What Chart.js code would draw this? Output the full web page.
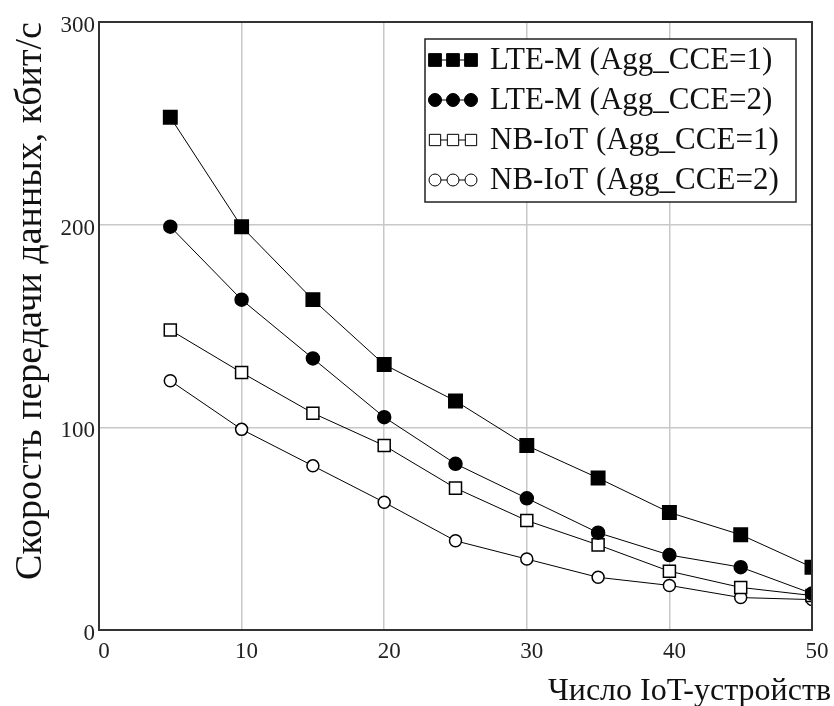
<!DOCTYPE html>
<html>
<head>
<meta charset="utf-8">
<script src="https://cdn.jsdelivr.net/npm/chart.js@4/dist/chart.umd.min.js"></script>
<style>
  html, body { margin: 0; padding: 0; background: #fff; }
  #wrap { width: 834px; height: 706px; }
</style>
</head>
<body>
<div id="wrap"><canvas id="rateChart" width="834" height="706"></canvas></div>
<script>
// число IoT-устройств
const devices = [5, 10, 15, 20, 25, 30, 35, 40, 45, 50];
// скорость, кбит/с
const lteM1 = [253, 199, 163, 131, 113, 91, 75, 58, 47, 31];
const lteM2 = [199, 163, 134, 105, 82, 65, 48, 37, 31, 18];
const nbIot1 = [148, 127, 107, 91, 70, 54, 42, 29, 21, 17];
const nbIot2 = [123, 99, 81, 63, 44, 35, 26, 22, 16, 15];
const seriesNames = ['LTE-M (Agg_CCE=1)', 'LTE-M (Agg_CCE=2)', 'NB-IoT (Agg_CCE=1)', 'NB-IoT (Agg_CCE=2)'];
const xTicks = [0, 10, 20, 30, 40, 50];
const yTicks = [0, 100, 200, 300];
const xTitle = 'Число IoT-устройств';
const yTitle = 'Скорость передачи данных, кбит/с';

const SERIF = '"Liberation Serif", "Times New Roman", serif';

function toPoints(values) {
    return devices.map((d, i) => ({ x: d, y: values[i] }));
}

// marker look per series
const markers = [
    { style: 'rect', radius: 9.5, fill: '#000', legendRadius: 9 },
    { style: 'circle', radius: 6.5, fill: '#000', legendRadius: 6.5 },
    { style: 'rect', radius: 8.5, fill: '#fff', legendRadius: 8 },
    { style: 'circle', radius: 6, fill: '#fff', legendRadius: 6 }
];

const allValues = [lteM1, lteM2, nbIot1, nbIot2];

const datasets = allValues.map((vals, i) => ({
    label: seriesNames[i],
    data: toPoints(vals),
    borderColor: '#000',
    borderWidth: 1,
    pointStyle: markers[i].style,
    pointRadius: markers[i].radius,
    pointHoverRadius: markers[i].radius,
    pointBackgroundColor: markers[i].fill,
    pointBorderColor: '#000',
    pointBorderWidth: 1.5,
    tension: 0
}));

// frame, axis titles and legend box
const extras = {
    id: 'extras',
    afterDraw(chart) {
        const ctx = chart.ctx;
        const a = chart.chartArea;
        ctx.save();
        ctx.strokeStyle = '#333';
        ctx.lineWidth = 2;
        ctx.strokeRect(a.left, a.top, a.right - a.left, a.bottom - a.top);

        // y title
        ctx.save();
        ctx.translate(31, 301);
        ctx.rotate(-Math.PI / 2);
        ctx.fillStyle = '#111';
        ctx.font = '38px ' + SERIF;
        ctx.textAlign = 'center';
        ctx.textBaseline = 'middle';
        ctx.fillText(yTitle, 0, 0);
        ctx.restore();

        // x title
        ctx.fillStyle = '#111';
        ctx.font = '32px ' + SERIF;
        ctx.textAlign = 'right';
        ctx.textBaseline = 'alphabetic';
        ctx.fillText(xTitle, 831, 700);

        // legend
        const bx = 425, by = 39, bw = 371, bh = 163;
        ctx.fillStyle = '#fff';
        ctx.fillRect(bx, by, bw, bh);
        ctx.strokeStyle = '#222';
        ctx.lineWidth = 1.5;
        ctx.strokeRect(bx, by, bw, bh);
        ctx.font = '31px ' + SERIF;
        ctx.textAlign = 'left';
        ctx.textBaseline = 'middle';
        seriesNames.forEach((name, i) => {
            const y = 60 + i * 40;
            ctx.strokeStyle = '#000';
            ctx.lineWidth = 1;
            ctx.beginPath();
            ctx.moveTo(429, y);
            ctx.lineTo(477, y);
            ctx.stroke();
            [435, 453, 471].forEach(px => {
                ctx.fillStyle = markers[i].fill;
                ctx.strokeStyle = '#000';
                Chart.helpers.drawPoint(ctx, {
                    pointStyle: markers[i].style,
                    radius: markers[i].legendRadius,
                    rotation: 0,
                    borderWidth: 1.2
                }, px, y);
            });
            ctx.fillStyle = '#111';
            ctx.fillText(name, 490, y + 1);
        });
        ctx.restore();
    }
};

new Chart('rateChart', {
    type: 'line',
    data: { datasets },
    options: {
        responsive: false,
        animation: false,
        events: [],
        layout: { padding: { top: 22, right: 22, bottom: 0, left: 0 } },
        plugins: {
            legend: { display: false },
            tooltip: { enabled: false }
        },
        scales: {
            x: {
                type: 'linear',
                min: 0,
                max: 50,
                afterBuildTicks: s => { s.ticks = xTicks.map(v => ({ value: v })); },
                afterFit: s => { s.height = 76; },
                grid: { color: '#c8c8c8', lineWidth: 1.5, drawTicks: false },
                border: { display: false },
                ticks: {
                    color: '#222',
                    font: { family: SERIF, size: 23 },
                    padding: 8,
                    labelOffset: 5,
                    maxRotation: 0
                }
            },
            y: {
                min: 0,
                max: 300,
                afterBuildTicks: s => { s.ticks = yTicks.map(v => ({ value: v })); },
                afterFit: s => { s.width = 99; },
                grid: { color: '#c8c8c8', lineWidth: 1.5, drawTicks: false },
                border: { display: false },
                ticks: {
                    color: '#222',
                    font: { family: SERIF, size: 23 },
                    padding: 4,
                    labelOffset: 4
                }
            }
        }
    },
    plugins: [extras]
});
</script>
</body>
</html>
